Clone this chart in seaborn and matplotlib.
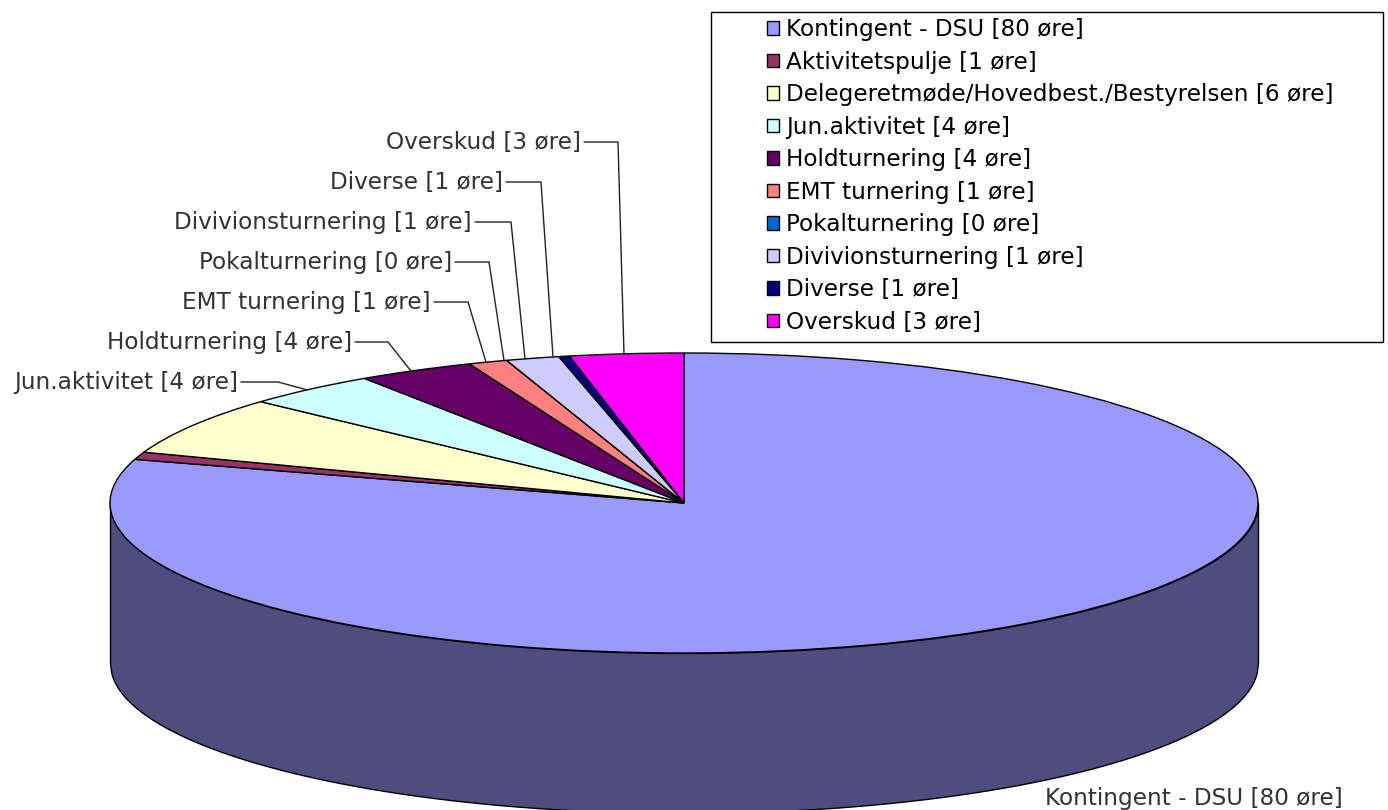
import matplotlib

matplotlib.use("Agg")

import matplotlib.pyplot as plt
import numpy as np
import seaborn as sns
from matplotlib.patches import Rectangle

NAMES = [
    "Kontingent - DSU",
    "Aktivitetspulje",
    "Delegeretmøde/Hovedbest./Bestyrelsen",
    "Jun.aktivitet",
    "Holdturnering",
    "EMT turnering",
    "Pokalturnering",
    "Divivionsturnering",
    "Diverse",
    "Overskud",
]
# rounded amounts as printed in the labels
VALUES = [80, 1, 6, 4, 4, 1, 0, 1, 1, 3]
# slice sizes, the printed amounts are rounded
SLICES = [79.7, 0.8, 6.3, 3.8, 3.3, 1.1, 0.0, 1.5, 0.3, 3.2]
COLORS = [
    "#9999FF",
    "#993366",
    "#FFFFCC",
    "#CCFFFF",
    "#660066",
    "#FF8080",
    "#0066CC",
    "#CCCCFF",
    "#000080",
    "#FF00FF",
]
SIDE_COLOR = "#4D4D80"

# pie geometry in pixels of the 1388x810 picture
CX, CY = 684, 503
RX, RY = 574, 150
DEPTH = 160
FONT_SIZE = 16.7

# callout text: slice index, right end of text, text y, elbow x, rim x
CALLOUTS = [
    (3, 238, 382, 278, 307),
    (4, 352, 342, 388, 411),
    (5, 431, 302, 468, 486),
    (6, 452, 262, 489, 504),
    (7, 472, 222, 511, 525),
    (8, 503, 182, 541, 553),
    (9, 581, 142, 618, 624),
]


def py(y):
    # picture y to data y, the pie is a circle of radius RX squashed by the axes
    return (CY - y) * RX / RY


sns.set_theme(style="white")
plt.rcParams["font.family"] = ["DejaVu Sans"]

labels = [f"{n} [{v} øre]" for n, v in zip(NAMES, VALUES)]
palette = sns.color_palette(COLORS)

fig = plt.figure(figsize=(13.88, 8.10), dpi=100)
ax = fig.add_axes([0, 0, 1, 1])

# side wall first, the top face goes over it
xs = np.linspace(CX - RX, CX + RX, 800)
front = -np.sqrt(np.clip(RX**2 - (xs - CX) ** 2, 0, None))
ax.fill_between(
    xs, front, front - DEPTH * RX / RY, color=SIDE_COLOR, ec="black", lw=1, zorder=1
)

wedges, _ = ax.pie(
    SLICES,
    colors=palette,
    center=(CX, 0),
    radius=RX,
    startangle=90,
    counterclock=False,
    wedgeprops={"edgecolor": "black", "linewidth": 1, "zorder": 2},
)
ax.set_aspect("auto")
ax.set_xlim(0, 1388)
ax.set_ylim(py(810), py(0))

for idx, right, y, elbow, rim_x in CALLOUTS:
    rim_y = np.sqrt(RX**2 - (rim_x - CX) ** 2)
    ax.plot(
        [right + 3, elbow, rim_x],
        [py(y), py(y), rim_y],
        color="#222222",
        lw=1,
        zorder=3,
    )
    ax.text(
        right, py(y), labels[idx], ha="right", va="center",
        fontsize=FONT_SIZE, color="#333333",
    )

ax.text(
    1343, py(798), labels[0], ha="right", va="center",
    fontsize=FONT_SIZE, color="#333333",
)

ax.add_patch(
    Rectangle(
        (711, py(342)), 672, py(12) - py(342),
        fill=False, ec="black", lw=1, clip_on=False, zorder=4,
    )
)
ax.legend(
    wedges,
    labels,
    loc="upper left",
    bbox_to_anchor=(767 / 1388, 1 - 18 / 810),
    frameon=False,
    fontsize=FONT_SIZE,
    borderpad=0,
    borderaxespad=0,
    handlelength=0.52,
    handleheight=0.52,
    handletextpad=0.3,
    labelspacing=0.41,
    labelcolor="black",
)

fig.savefig("out.png", dpi=100, facecolor="white")
